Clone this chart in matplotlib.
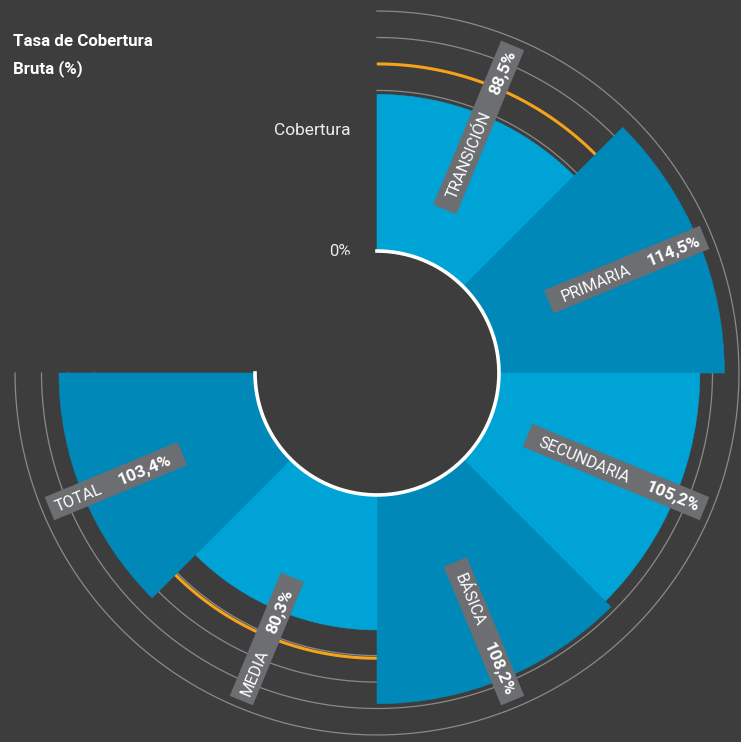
import numpy as np
import matplotlib
matplotlib.use("Agg")
import matplotlib.pyplot as plt
from matplotlib import font_manager
from matplotlib.patches import Polygon
from matplotlib.transforms import IdentityTransform

# ---- data -------------------------------------------------------------
categories = ["TRANSICIÓN", "PRIMARIA", "SECUNDARIA", "BÁSICA", "MEDIA", "TOTAL"]
cobertura = [88.5, 114.5, 105.2, 108.2, 80.3, 103.4]
meta = [100.0, np.nan, np.nan, np.nan, 91.0, np.nan]   # reference arcs (orange)
grid_values = [90, 100, 110, 120]

title_lines = ["Tasa de Cobertura", "Bruta (%)"]
axis_title = "Cobertura"
zero_label = "0%"

# ---- style ------------------------------------------------------------
BG = "#3d3d3d"
LIGHT = "#00a3d6"
DARK = "#0089b8"
BOX = "#6d6e71"
ORANGE = "#f5a31a"
GRID = "#8a8a8a"
TXT = "#ececec"

available = {f.name for f in font_manager.fontManager.ttflist}
FONT = next((f for f in ["Roboto", "DejaVu Sans"] if f in available), "DejaVu Sans")
plt.rcParams["font.family"] = [FONT, "DejaVu Sans"]

# radial scale: value at the centre, outer limit, hole and label radius
R_MIN, R_MAX = -16.8, 125.0
HOLE = 29.3
LABEL_R = 117.2
PX_PER_UNIT = 2.646

W, H = 741, 742
fig = plt.figure(figsize=(W / 100, H / 100), dpi=100, facecolor=BG)

cx, cy = 377, H - 373
R_px = (R_MAX - R_MIN) * PX_PER_UNIT
ax = fig.add_axes([(cx - R_px) / W, (cy - R_px) / H, 2 * R_px / W, 2 * R_px / H],
                  projection="polar")
ax.set_theta_zero_location("N")
ax.set_theta_direction(-1)
ax.set_ylim(R_MIN, R_MAX)
ax.set_axis_off()

n = len(categories)
sector = 360.0 / 8
theta_deg = sector / 2 + sector * np.arange(n)
theta = np.deg2rad(theta_deg)
span = np.linspace(0, np.deg2rad(sector * n), 500)

# concentric guide arcs
for g in grid_values:
    ax.plot(span, np.full_like(span, g), color=GRID, lw=0.9, zorder=1)

# reference arcs per category
for t, m in zip(theta_deg, meta):
    if not np.isnan(m):
        arc = np.deg2rad(np.linspace(t - sector / 2, t + sector / 2, 80))
        ax.plot(arc, np.full_like(arc, m), color=ORANGE, lw=2.2, zorder=2,
                solid_capstyle="butt")

# bars
colors = [LIGHT if i % 2 == 0 else DARK for i in range(n)]
ax.bar(theta, cobertura, width=np.deg2rad(sector), bottom=0, color=colors,
       edgecolor=colors, linewidth=0.4, zorder=3)

# inner hole (full disc in background colour) with white rim
ax.bar(np.pi, HOLE - R_MIN, width=2 * np.pi, bottom=R_MIN,
       color=BG, linewidth=0, zorder=4)
ax.plot(span, np.full_like(span, HOLE), color="white", lw=2.6, zorder=5)

# radial axis texts
off = -26 * 72 / 100
ax.annotate(zero_label, xy=(0, HOLE), xytext=(off, 0), textcoords="offset points",
            ha="right", va="center", color=TXT, fontsize=12, annotation_clip=False)
ax.annotate(axis_title, xy=(0, 75), xytext=(off, 0), textcoords="offset points",
            ha="right", va="center", color=TXT, fontsize=12.5, annotation_clip=False)

# title
fig.text(13 / W, 1 - 46 / H, title_lines[0], ha="left", va="baseline",
         color="white", fontsize=12.2, fontweight="bold")
fig.text(13 / W, 1 - 73 / H, title_lines[1], ha="left", va="baseline",
         color="white", fontsize=12.2, fontweight="bold")

# radial labels in grey boxes
renderer = fig.canvas.get_renderer()
center = ax.transData.transform((0, R_MIN))
ppu = (ax.transData.transform((0, R_MAX))[1] - center[1]) / (R_MAX - R_MIN)
rho_out = (LABEL_R - R_MIN) * ppu
PAD_IN, PAD_OUT, GAP, BH = 13, 6, 19, 25
NAME_FS, VALUE_FS = 11.6, 12.4


def fmt(v):
    return f"{v:.1f}%".replace(".", ",")


for name, v, t in zip(categories, cobertura, theta_deg):
    a = np.deg2rad(t)
    u = np.array([np.sin(a), np.cos(a)])
    flipped = t > 180
    d = -u if flipped else u
    rot = np.degrees(np.arctan2(d[1], d[0]))
    nrm = np.array([-d[1], d[0]])

    tn = fig.text(0, 0, name, color="white", fontsize=NAME_FS, fontweight="normal",
                  transform=IdentityTransform(), ha="left", va="center_baseline",
                  rotation_mode="anchor", zorder=8)
    tv = fig.text(0, 0, fmt(v), color="white", fontsize=VALUE_FS, fontweight="bold",
                  transform=IdentityTransform(), ha="left", va="center_baseline",
                  rotation_mode="anchor", zorder=8)
    wn = tn.get_window_extent(renderer).width
    wv = tv.get_window_extent(renderer).width
    pad_start, pad_end = (PAD_OUT, PAD_IN) if flipped else (PAD_IN, PAD_OUT)
    L = pad_start + wn + GAP + wv + pad_end

    def pt(s):
        rho = rho_out - s if flipped else rho_out - L + s
        return center + rho * u

    tn.set_position(pt(pad_start))
    tv.set_position(pt(pad_start + wn + GAP))
    tn.set_rotation(rot)
    tv.set_rotation(rot)

    p0, p1 = pt(0), pt(L)
    corners = [p0 + nrm * BH / 2, p1 + nrm * BH / 2, p1 - nrm * BH / 2, p0 - nrm * BH / 2]
    fig.add_artist(Polygon(corners, closed=True, facecolor=BOX, edgecolor="none",
                           transform=IdentityTransform(), zorder=7))

fig.savefig("out.png", dpi=100, facecolor=BG)
